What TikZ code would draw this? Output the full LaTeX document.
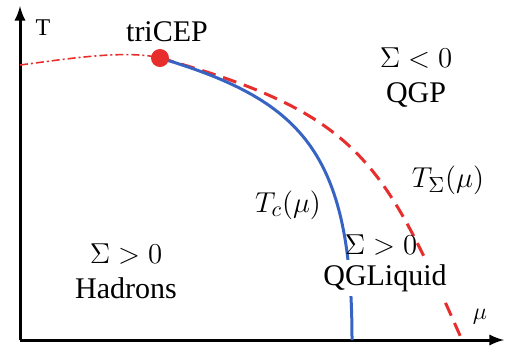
\documentclass[tikz,border=0pt]{standalone}
\usepackage{fontspec}
\setmainfont{Liberation Serif}
\usetikzlibrary{positioning}
\definecolor{tcblue}{RGB}{55,100,195}
\definecolor{tsred}{RGB}{232,45,45}

\begin{document}
\begin{tikzpicture}[x=0.5pt, y=-0.5pt, >=latex,
    lbl/.style={font=\fontsize{15}{17.5}\selectfont, align=center},
    axlbl/.style={font=\fontsize{12}{14}\selectfont},
    cepdot/.style={circle, fill=tsred, inner sep=0pt, minimum size=9pt}]
    \useasboundingbox (0,0) rectangle (507,345);
    % ==== AXES ====
    \coordinate (O) at (20,340);
    \coordinate (Ttop) at (20,6);
    \coordinate (Mend) at (504,340);
    \draw[->, line width=1.5pt] (O) -- (Ttop);
    \draw[->, line width=1.5pt] (O) -- (Mend);
    \node[axlbl] (tlab) at (43,28) {T};
    \node[axlbl] (mulab) at (480,317) {$\mu$};

    % ==== CURVES ====
    \coordinate (start) at (20,65);
    \coordinate (cep) at (160,58);
    \coordinate (muc) at (352,340);
    \coordinate (mus) at (462,340);
    \draw[tsred, line width=0.8pt, dash pattern=on 4pt off 1.5pt on 1pt off 1.5pt]
        (start) .. controls (60,60) and (125,49) .. (cep);
    \draw[tsred, line width=1.5pt, dash pattern=on 7pt off 4pt]
        (cep) .. controls (360,114) and (383,161) .. (mus);
    \draw[tcblue, line width=1.5pt]
        (cep) .. controls (300,100) and (352,150) .. (muc);
    \node[cepdot] (dot) at (cep) {};

    % ==== LABELS ====
    \node[lbl] (tricep) at (167,32) {triCEP};
    \node[lbl] (qgp) at (416,78) {$\Sigma<0$\\QGP};
    \node[lbl] (tsig) at (448,180) {$T_\Sigma(\mu)$};
    \node[lbl] (tc) at (288,205) {$T_c(\mu)$};
    \node[lbl] (sigq) at (381,245) {$\Sigma>0$};
    \node[lbl, fill=white, inner sep=2pt] (qgl) at (385,278) {QGLiquid};
    \node[lbl] (had) at (126,271) {$\Sigma>0$\\Hadrons};
\end{tikzpicture}
\end{document}
